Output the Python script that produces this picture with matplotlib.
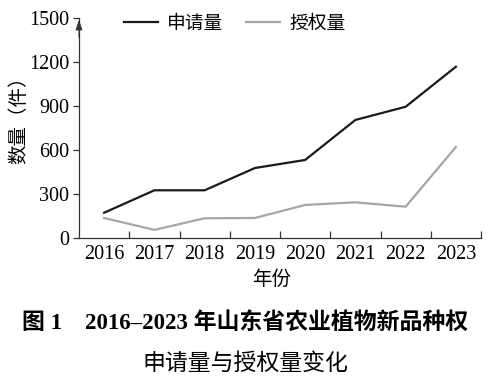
import matplotlib
matplotlib.use("Agg")
import matplotlib.pyplot as plt
import numpy as np

years = ["2016", "2017", "2018", "2019", "2020", "2021", "2022", "2023"]
applications = [172, 325, 325, 477, 532, 805, 895, 1168]
grants = [136, 55, 134, 136, 225, 243, 213, 620]
yticks = [0, 300, 600, 900, 1200, 1500]

serif = ["Liberation Serif", "Noto Sans CJK SC"]
cjk = ["Noto Sans CJK SC", "DejaVu Sans"]

fig = plt.figure(figsize=(5, 3.85), dpi=100)
ax = fig.add_axes([0.158, 0.382, 0.804, 0.571])
x = np.arange(len(years))
ax.plot(x, applications, color="#1a1a1a", lw=1.6, label="申请量")
ax.plot(x, grants, color="#a6a6a6", lw=1.6, label="授权量")

ax.set_xlim(-0.5, len(years) - 0.5)
ax.set_ylim(0, 1500)
ax.set_xticks(x)
ax.set_xticklabels(years, family=serif, fontsize=14.5)
ax.set_xticks(np.arange(len(years)) + 0.5, minor=True)
ax.tick_params(axis="x", which="major", length=0, pad=5)
ax.tick_params(axis="x", which="minor", direction="in", length=5, width=0.9, color="#333333")
ax.set_yticks(yticks)
ax.set_yticklabels([str(v) for v in yticks], family=serif, fontsize=14.5)
ax.tick_params(axis="y", direction="out", length=4, width=0.9, color="#333333", pad=3)
for s in ["top", "right"]:
    ax.spines[s].set_visible(False)
for s in ["left", "bottom"]:
    ax.spines[s].set_color("#333333")
    ax.spines[s].set_linewidth(0.9)
ax.annotate("", xy=(0, 1.005), xycoords="axes fraction", xytext=(0, 0.9),
            arrowprops=dict(arrowstyle="-|>,head_length=0.6,head_width=0.2", color="#333333", lw=0.8))

ax.set_xlabel("年份", family=cjk, fontsize=14)
ax.xaxis.set_label_coords(0.48, -0.14)
ax.set_ylabel("数量（件）", family=cjk, fontsize=14)
ax.yaxis.set_label_coords(-0.125, 0.56)

leg = ax.legend(loc="upper left", bbox_to_anchor=(0.07, 1.1), ncol=2, frameon=False,
                prop={"family": cjk, "size": 13.5}, handlelength=1.8, columnspacing=1.2,
                handletextpad=0.5)

fig.text(0.49, 1 - 323 / 385, "图 1    2016–2023 年山东省农业植物新品种权", ha="center", va="center",
         family=["Liberation Serif", "Noto Sans CJK SC"], fontsize=16.5, fontweight="bold")
fig.text(0.49, 1 - 363 / 385, "申请量与授权量变化", ha="center", va="center",
         family=cjk, fontsize=16.5)

fig.savefig("out.png", dpi=100)
